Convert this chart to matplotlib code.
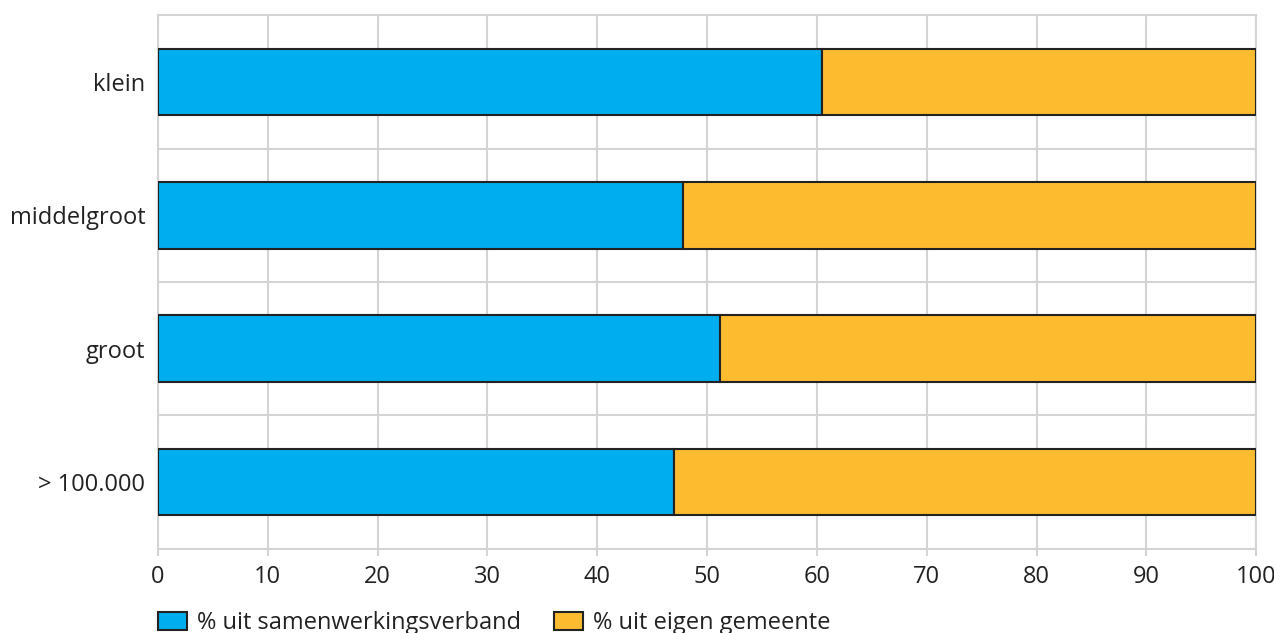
import matplotlib.pyplot as plt
import numpy as np
from matplotlib.patches import Patch

plt.rcParams['font.family'] = ['Open Sans', 'DejaVu Sans']

# Data
categories = ['klein', 'middelgroot', 'groot', '> 100.000']
samenwerking = [60.5, 47.8, 51.2, 47.0]
eigen = [100 - v for v in samenwerking]
labels = ['% uit samenwerkingsverband', '% uit eigen gemeente']
blue = '#00adee'
orange = '#fdbb30'
edge = '#222222'
grid_c = '#d4d4d4'

fig = plt.figure(figsize=(12.74, 6.33), dpi=100)
ax = fig.add_axes([0.124, 0.133, 0.862, 0.843])

y = np.arange(len(categories))
ax.barh(y, samenwerking, height=0.5, color=blue, edgecolor=edge, linewidth=1.5, zorder=3)
ax.barh(y, eigen, left=samenwerking, height=0.5, color=orange, edgecolor=edge, linewidth=1.5, zorder=3)

ax.set_xlim(0, 100)
ax.set_ylim(len(categories) - 0.5, -0.5)
ax.set_xticks(np.arange(0, 101, 10))
ax.set_yticks(y, categories)
ax.set_yticks(np.arange(0.5, len(categories) - 0.5, 1), minor=True)

ax.grid(axis='x', color=grid_c, linewidth=1.5, zorder=0)
ax.grid(axis='y', which='minor', color=grid_c, linewidth=1.5, zorder=0)
ax.grid(axis='y', which='major', visible=False)
for s in ax.spines.values():
    s.set_color(grid_c)
    s.set_linewidth(1.5)

ax.tick_params(axis='x', length=5, color=grid_c, width=1.5, labelsize=17, labelcolor='#222222', pad=7)
ax.tick_params(axis='y', length=0, labelsize=17, labelcolor='#222222', pad=9)
ax.tick_params(axis='y', which='minor', length=0)

handles = [Patch(facecolor=blue, edgecolor=edge, linewidth=1.5),
           Patch(facecolor=orange, edgecolor=edge, linewidth=1.5)]
fig.legend(handles, labels, loc='lower left', bbox_to_anchor=(0.1076, -0.037), ncol=2,
           frameon=False, fontsize=17, handlelength=1.2, handleheight=0.75,
           columnspacing=1.4, handletextpad=0.45, labelcolor='#222222')

plt.savefig('out.png', dpi=100)
plt.close()
